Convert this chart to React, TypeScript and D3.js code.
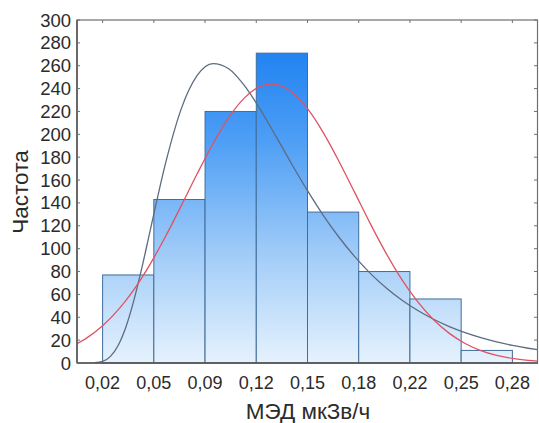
import React from "react";
import * as d3 from "d3";

const binEdges = [0.02, 0.0525, 0.085, 0.1175, 0.15, 0.1825, 0.215, 0.2475, 0.28];
const tickLabels = ["0,02", "0,05", "0,09", "0,12", "0,15", "0,18", "0,22", "0,25", "0,28"];
const counts = [77, 143, 220, 271, 132, 80, 56, 11];
const yTicks = [0, 20, 40, 60, 80, 100, 120, 140, 160, 180, 200, 220, 240, 260, 280, 300];

// Gray (lognormal-like) fitted curve
const grayX = [0.015, 0.02, 0.025, 0.03, 0.035, 0.04, 0.045, 0.05, 0.06, 0.07, 0.08, 0.09, 0.1, 0.11, 0.12, 0.13, 0.14, 0.15, 0.16, 0.17, 0.18, 0.19, 0.2, 0.21, 0.22, 0.23, 0.24, 0.25, 0.26, 0.27, 0.28, 0.29, 0.296];
const grayY = [0.2, 1.4, 5.8, 15.7, 32.4, 55.6, 83.8, 114.7, 175.1, 222.7, 251.5, 261.9, 257.4, 242.6, 221.9, 198.2, 174.0, 150.7, 129.2, 110.0, 93.0, 78.2, 65.6, 54.9, 45.9, 38.3, 31.9, 26.6, 22.2, 18.5, 15.4, 12.9, 11.6];

// Red (normal) fitted curve
const redX = [0.00375, 0.01, 0.02, 0.03, 0.04, 0.05, 0.06, 0.07, 0.08, 0.09, 0.1, 0.11, 0.12, 0.127, 0.13, 0.14, 0.15, 0.16, 0.17, 0.18, 0.19, 0.2, 0.21, 0.22, 0.23, 0.24, 0.25, 0.26, 0.27, 0.28, 0.29, 0.296];
const redY = [16.9, 22.0, 32.6, 46.7, 64.5, 86.1, 110.9, 137.9, 165.5, 191.8, 214.7, 231.9, 241.9, 244.0, 243.6, 236.9, 222.4, 201.5, 176.3, 149.0, 121.5, 95.7, 72.7, 53.4, 37.8, 25.9, 17.1, 10.9, 6.7, 4.0, 2.3, 1.6];

const W = 539;
const H = 423;
const L = 77;
const R = 538;
const T = 20;
const B = 363;

export default function App() {
  const bw = binEdges[1] - binEdges[0];
  const x = d3.scaleLinear().domain([binEdges[0] - bw / 2, binEdges[binEdges.length - 1] + bw / 2]).range([L, R]);
  const y = d3.scaleLinear().domain([0, 300]).range([B, T]);

  const line = d3
    .line<[number, number]>()
    .x((d) => x(d[0]))
    .y((d) => y(d[1]))
    .curve(d3.curveMonotoneX);

  const grayPath = line(grayX.map((v, i) => [v, grayY[i]]));
  const redPath = line(redX.map((v, i) => [v, redY[i]]));

  const font = "Liberation Sans, Arial, sans-serif";
  const axisColor = "#707070";
  const textColor = "#2b2b2b";

  return (
    <svg width={W} height={H} style={{ position: "absolute", left: 0, top: 0, background: "#fff" }}>
      <defs>
        <linearGradient id="barGrad" gradientUnits="userSpaceOnUse" x1={0} y1={T} x2={0} y2={B}>
          <stop offset="0%" stopColor="#1179f0" />
          <stop offset="35%" stopColor="#4d9ef5" />
          <stop offset="70%" stopColor="#a5cef8" />
          <stop offset="100%" stopColor="#e6f2fd" />
        </linearGradient>
        <clipPath id="plotClip">
          <rect x={L} y={T} width={R - L} height={B - T} />
        </clipPath>
      </defs>

      {/* bars */}
      {counts.map((c, i) => (
        <rect
          key={i}
          x={x(binEdges[i])}
          y={y(c)}
          width={x(binEdges[i + 1]) - x(binEdges[i])}
          height={y(0) - y(c)}
          fill="url(#barGrad)"
          stroke="#3f6d9c"
          strokeWidth={1}
        />
      ))}

      {/* curves */}
      <g clipPath="url(#plotClip)">
        <path d={grayPath || ""} fill="none" stroke="#5d6c82" strokeWidth={1.3} />
        <path d={redPath || ""} fill="none" stroke="#df5262" strokeWidth={1.3} />
      </g>

      {/* frame */}
      <rect x={L} y={T} width={R - L - 0.5} height={B - T} fill="none" stroke={axisColor} strokeWidth={1.2} />
      <line x1={L} x2={R} y1={B} y2={B} stroke="#555" strokeWidth={1.5} />
      <line x1={L} x2={L} y1={T} y2={B} stroke="#555" strokeWidth={1.5} />

      {/* y ticks inside left and right */}
      {yTicks.map((t) => (
        <g key={t}>
          <line x1={L} x2={L + 3} y1={y(t)} y2={y(t)} stroke={axisColor} />
          <line x1={R - 1} x2={R - 4} y1={y(t)} y2={y(t)} stroke={axisColor} />
          <text
            x={71}
            y={y(t)}
            textAnchor="end"
            dominantBaseline="central"
            fontFamily={font}
            fontSize={18.5}
            fill={textColor}
          >
            {t}
          </text>
        </g>
      ))}

      {/* x ticks on top and labels */}
      {binEdges.map((e, i) => (
        <g key={i}>
          <line x1={x(e)} x2={x(e)} y1={T} y2={T + 3} stroke={axisColor} />
          <text
            x={x(e)}
            y={383}
            textAnchor="middle"
            dominantBaseline="central"
            fontFamily={font}
            fontSize={18}
            fill={textColor}
          >
            {tickLabels[i]}
          </text>
        </g>
      ))}

      {/* axis titles */}
      <text x={308} y={411} textAnchor="middle" dominantBaseline="central" fontFamily={font} fontSize={22.5} fill={textColor}>
        МЭД мкЗв/ч
      </text>
      <text
        transform={`translate(20, 192) rotate(-90)`}
        textAnchor="middle"
        dominantBaseline="central"
        fontFamily={font}
        fontSize={22.5}
        fill={textColor}
      >
        Частота
      </text>
    </svg>
  );
}
